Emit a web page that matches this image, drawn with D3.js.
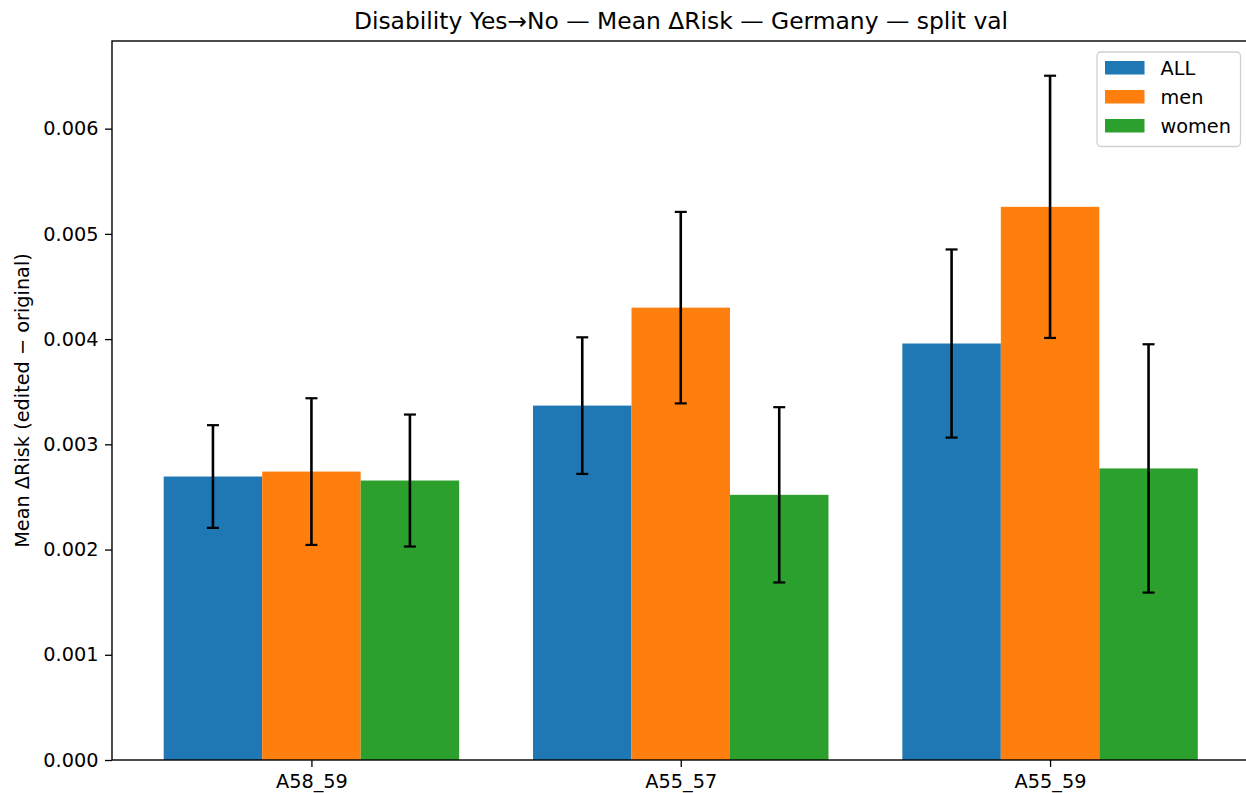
<!DOCTYPE html>
<html>
<head>
<meta charset="utf-8">
<script src="https://cdn.jsdelivr.net/npm/d3@7"></script>
<style>
  html, body { margin: 0; padding: 0; background: #fff; overflow: hidden; }
  svg { display: block; font-family: "DejaVu Sans", sans-serif; }
</style>
</head>
<body>
<svg id="chart" width="1246" height="793"></svg>
<script>
// Age-band groups and the three subgroup series
const categories = ["A58_59", "A55_57", "A55_59"];
const seriesNames = ["ALL", "men", "women"];
const seriesColors = ["#1f77b4", "#ff7f0e", "#2ca02c"];

// Mean ΔRisk per group, one array per series
const meanAll   = [0.002694, 0.003368, 0.003958];
const meanMen   = [0.002741, 0.004299, 0.005257];
const meanWomen = [0.002656, 0.002520, 0.002771];

// Half-width of each error bar
const errAll   = [0.000488, 0.000649, 0.000894];
const errMen   = [0.000697, 0.000910, 0.001246];
const errWomen = [0.000627, 0.000833, 0.001180];

const yTicks = [0, 0.001, 0.002, 0.003, 0.004, 0.005, 0.006];

const title = "Disability Yes\u2192No \u2014 Mean \u0394Risk \u2014 Germany \u2014 split val";
const yLabel = "Mean \u0394Risk (edited \u2212 original)";

const series = [
  { name: seriesNames[0], color: seriesColors[0], mean: meanAll, err: errAll },
  { name: seriesNames[1], color: seriesColors[1], mean: meanMen, err: errMen },
  { name: seriesNames[2], color: seriesColors[2], mean: meanWomen, err: errWomen }
];

const FONT = 19.3;
const TITLE_FONT = 23.4;

const svg = d3.select("#chart");
const m = { left: 112, top: 41, bottom: 760 };
const barW = 0.8 / 3;

// Linear x over group index so bars sit at i - w, i, i + w
const x = d3.scaleLinear().domain([-0.54, 2.54]).range([m.left, 1249.5]);
const y = d3.scaleLinear().domain([0, 0.006833]).range([m.bottom, m.top]);

const plot = svg.append("g");

series.forEach((s, k) => {
  const off = (k - 1) * barW;
  plot.selectAll(null).data(categories).enter().append("rect")
    .attr("x", (d, i) => x(i + off - barW / 2))
    .attr("width", x(barW) - x(0))
    .attr("y", (d, i) => y(s.mean[i]))
    .attr("height", (d, i) => y(0) - y(s.mean[i]))
    .attr("fill", s.color);
});

// Error bars with caps
series.forEach((s, k) => {
  const off = (k - 1) * barW;
  const g = plot.selectAll(null).data(categories).enter().append("g")
    .attr("stroke", "#000");
  g.append("line")
    .attr("x1", (d, i) => x(i + off)).attr("x2", (d, i) => x(i + off))
    .attr("y1", (d, i) => y(s.mean[i] - s.err[i]))
    .attr("y2", (d, i) => y(s.mean[i] + s.err[i]))
    .attr("stroke-width", 2.6);
  [-1, 1].forEach(sign => {
    g.append("line")
      .attr("x1", (d, i) => x(i + off) - 6).attr("x2", (d, i) => x(i + off) + 6)
      .attr("y1", (d, i) => y(s.mean[i] + sign * s.err[i]))
      .attr("y2", (d, i) => y(s.mean[i] + sign * s.err[i]))
      .attr("stroke-width", 2.2);
  });
});

// Axes
const yAxis = d3.axisLeft(y).tickValues(yTicks).tickFormat(d3.format(".3f"))
  .tickSizeOuter(0).tickSize(7).tickPadding(6.5);
const gy = svg.append("g").attr("transform", `translate(${m.left},0)`).call(yAxis);
gy.select(".domain").remove();
gy.selectAll("text").attr("font-size", FONT + "px").attr("fill", "#000")
  .attr("font-family", "DejaVu Sans");
gy.selectAll("line").attr("stroke", "#000").attr("stroke-width", 1.3);

const xAxis = d3.axisBottom(x).tickValues([0, 1, 2]).tickFormat(i => categories[i])
  .tickSizeOuter(0).tickSize(7).tickPadding(7);
const gx = svg.append("g").attr("transform", `translate(0,${m.bottom})`).call(xAxis);
gx.select(".domain").remove();
gx.selectAll("text").attr("font-size", FONT + "px").attr("fill", "#000")
  .attr("font-family", "DejaVu Sans");
gx.selectAll("line").attr("stroke", "#000").attr("stroke-width", 1.3);

// Spines
const x0 = m.left, x1 = 1249.5;
svg.append("rect")
  .attr("x", x0).attr("y", m.top)
  .attr("width", x1 - x0).attr("height", m.bottom - m.top)
  .attr("fill", "none").attr("stroke", "#000").attr("stroke-width", 1.4);

// Title and y label
svg.append("text")
  .attr("x", 681).attr("y", 29)
  .attr("text-anchor", "middle").attr("font-size", TITLE_FONT + "px").attr("fill", "#000")
  .text(title);

svg.append("text")
  .attr("transform", `translate(29,${(m.top + m.bottom) / 2}) rotate(-90)`)
  .attr("text-anchor", "middle").attr("font-size", FONT + "px").attr("fill", "#000")
  .text(yLabel);

// Legend
const lg = svg.append("g").attr("transform", "translate(1097,52)");
lg.append("rect")
  .attr("width", 143.5).attr("height", 94.5).attr("rx", 4)
  .attr("fill", "#fff").attr("fill-opacity", 0.8)
  .attr("stroke", "#d0d0d0").attr("stroke-width", 1.3);
series.forEach((s, k) => {
  const row = lg.append("g").attr("transform", `translate(0,${k * 29})`);
  row.append("rect").attr("x", 8).attr("y", 9).attr("width", 39.5).attr("height", 13.5)
    .attr("fill", s.color);
  row.append("text").attr("x", 63.5).attr("y", 22.5)
    .attr("font-size", FONT + "px").attr("fill", "#000").text(s.name);
});
</script>
</body>
</html>
